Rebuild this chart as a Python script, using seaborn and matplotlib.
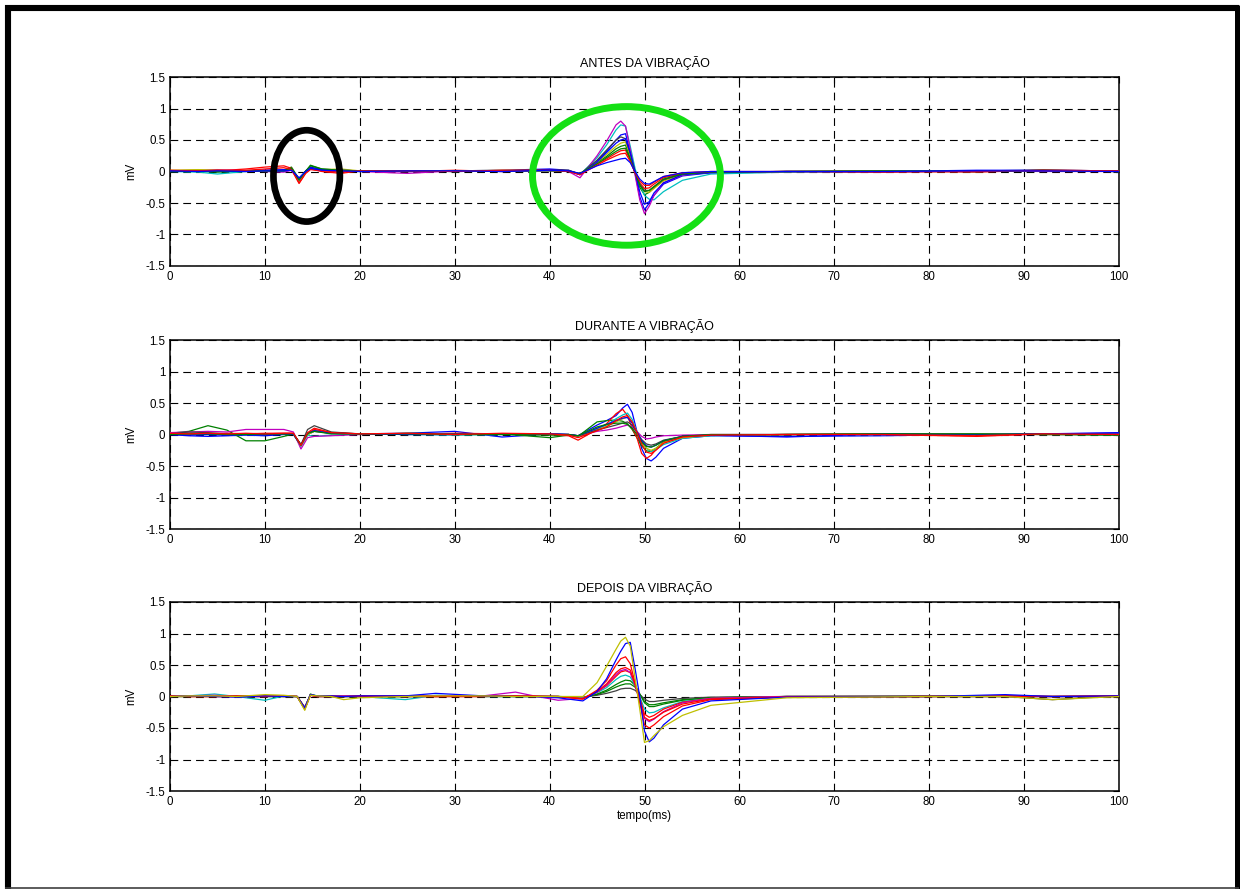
import matplotlib
matplotlib.use("Agg")
import matplotlib.pyplot as plt
from matplotlib.patches import Ellipse
from matplotlib.lines import Line2D
import numpy as np
import pandas as pd
import seaborn as sns

# ---------------- data (mV vs. time in ms) ----------------
# MATLAB default colour order
COL = {"b": "#0000ff", "g": "#008000", "r": "#ff0000", "c": "#00bfbf",
       "m": "#bf00bf", "y": "#bfbf00", "k": "#404040"}

titles = ["ANTES DA VIBRAÇÃO", "DURANTE A VIBRAÇÃO", "DEPOIS DA VIBRAÇÃO"]
x_ticks = [0, 10, 20, 30, 40, 50, 60, 70, 80, 90, 100]
y_ticks = [-1.5, -1, -0.5, 0, 0.5, 1, 1.5]
y_ticklabels = ["-1.5", "-1", "-0.5", "0", "0.5", "1", "1.5"]

# --- ANTES ---
t_antes = [0, 3, 5, 8, 10, 12, 12.8, 13.6, 14.3, 14.8, 16, 18, 20, 25, 30, 35, 40, 42, 43.2,
           45, 46, 47, 47.5, 48, 48.5, 49, 49.5, 50, 50.5, 51, 52, 54, 57, 65, 75, 85, 92, 100]
antes_b1 = [0.01, 0.01, 0.00, 0.01, 0.02, 0.02, 0.03, -0.13, 0.00, 0.06, 0.03, 0.02, 0.01, 0.00, 0.01, 0.02, 0.04, 0.02, -0.05,
            0.17, 0.32, 0.50, 0.58, 0.60, 0.30, -0.02, -0.40, -0.61, -0.50, -0.38, -0.20, -0.07, -0.02, 0.00, -0.01, 0.01, 0.02, 0.01]
antes_g1 = [0.00, 0.01, -0.01, 0.01, 0.00, 0.02, 0.07, -0.12, 0.00, 0.10, 0.04, 0.02, 0.00, 0.01, 0.00, 0.01, 0.02, 0.01, -0.04,
            0.14, 0.24, 0.36, 0.40, 0.42, 0.22, -0.02, -0.25, -0.37, -0.33, -0.26, -0.14, -0.05, -0.01, 0.00, 0.01, 0.00, 0.01, 0.00]
antes_r1 = [0.01, 0.02, 0.01, 0.04, 0.07, 0.09, 0.05, -0.18, -0.02, 0.04, 0.00, -0.03, 0.01, 0.00, 0.02, 0.00, 0.03, 0.01, -0.05,
            0.12, 0.20, 0.29, 0.33, 0.34, 0.18, -0.02, -0.18, -0.27, -0.26, -0.20, -0.10, -0.03, -0.01, 0.00, 0.01, -0.01, 0.02, 0.01]
antes_c1 = [0.00, -0.01, -0.04, 0.00, 0.01, 0.01, 0.02, -0.14, -0.01, 0.04, 0.02, 0.01, 0.00, 0.01, 0.01, 0.00, 0.02, 0.01, -0.05,
            0.22, 0.42, 0.66, 0.74, 0.72, 0.40, 0.05, -0.20, -0.38, -0.44, -0.45, -0.32, -0.14, -0.04, -0.01, 0.00, 0.00, 0.01, 0.00]
antes_m1 = [0.01, 0.02, 0.03, 0.01, 0.00, -0.01, 0.02, -0.15, -0.01, 0.05, 0.02, 0.01, 0.00, -0.03, 0.01, 0.00, 0.01, 0.00, -0.10,
            0.25, 0.48, 0.74, 0.80, 0.72, 0.35, -0.05, -0.45, -0.67, -0.55, -0.38, -0.18, -0.06, -0.01, 0.00, 0.00, 0.01, 0.00, 0.00]
antes_y1 = [0.02, 0.03, 0.02, 0.01, 0.01, 0.02, 0.04, -0.15, -0.01, 0.05, 0.03, 0.04, 0.01, 0.01, 0.01, 0.02, 0.02, 0.01, -0.04,
            0.15, 0.27, 0.40, 0.45, 0.47, 0.25, -0.01, -0.22, -0.32, -0.33, -0.27, -0.15, -0.05, -0.01, 0.00, 0.01, 0.01, 0.02, 0.01]
antes_k1 = [0.00, 0.01, 0.01, 0.00, 0.01, 0.01, 0.03, -0.14, 0.00, 0.05, 0.02, 0.01, 0.01, 0.00, 0.01, 0.01, 0.03, 0.02, -0.04,
            0.18, 0.34, 0.50, 0.55, 0.52, 0.28, 0.00, -0.20, -0.30, -0.30, -0.24, -0.13, -0.04, -0.01, 0.00, 0.00, 0.01, 0.01, 0.00]
antes_b2 = [0.01, 0.00, 0.01, 0.01, 0.02, 0.03, 0.04, -0.12, 0.01, 0.07, 0.03, 0.02, 0.01, 0.01, 0.00, 0.01, 0.03, 0.01, -0.05,
            0.15, 0.30, 0.45, 0.50, 0.52, 0.30, 0.00, -0.32, -0.52, -0.48, -0.34, -0.18, -0.05, -0.02, 0.00, 0.00, 0.02, 0.02, 0.01]
antes_g2 = [0.01, 0.00, 0.00, 0.01, 0.01, 0.01, 0.05, -0.13, 0.01, 0.09, 0.04, 0.02, 0.01, 0.01, 0.00, 0.01, 0.01, 0.00, -0.03,
            0.12, 0.22, 0.32, 0.36, 0.37, 0.20, -0.01, -0.22, -0.32, -0.30, -0.24, -0.12, -0.04, -0.01, 0.00, 0.01, 0.00, 0.02, 0.00]
antes_r2 = [0.02, 0.01, 0.02, 0.02, 0.04, 0.06, 0.03, -0.19, -0.03, 0.03, 0.01, -0.01, 0.01, 0.01, 0.00, 0.02, 0.02, 0.00, -0.05,
            0.10, 0.18, 0.25, 0.28, 0.29, 0.16, -0.02, -0.15, -0.22, -0.22, -0.17, -0.08, -0.02, 0.00, 0.00, -0.01, 0.00, 0.02, 0.01]
antes_b3 = [0.01, 0.00, 0.01, 0.00, 0.01, 0.01, 0.02, -0.10, 0.00, 0.05, 0.02, 0.01, 0.00, 0.01, 0.01, 0.00, 0.02, 0.01, -0.03,
            0.09, 0.14, 0.18, 0.20, 0.21, 0.14, 0.00, -0.12, -0.19, -0.20, -0.16, -0.08, -0.02, 0.00, 0.00, 0.00, 0.01, 0.01, 0.00]

# --- DURANTE ---
t_durante = [0, 2, 4, 6, 8, 10, 12, 13, 13.8, 14.5, 15.2, 17, 20, 25, 30, 35, 40, 42, 43,
             45, 46, 47, 47.7, 48.2, 48.7, 49.2, 49.7, 50.2, 50.7, 51.2, 52, 54, 57, 65, 75, 85, 92, 100]
durante_b1 = [0.00, -0.02, -0.03, -0.02, -0.01, -0.02, 0.00, 0.01, -0.18, 0.00, 0.05, 0.02, 0.01, 0.02, 0.05, -0.04, 0.01, 0.00, -0.02,
              0.15, 0.22, 0.30, 0.42, 0.48, 0.35, 0.05, -0.22, -0.38, -0.42, -0.36, -0.22, -0.06, -0.02, -0.03, -0.02, 0.00, 0.01, 0.02]
durante_g1 = [0.02, 0.05, 0.14, 0.07, -0.10, -0.10, -0.03, 0.01, -0.16, 0.00, 0.06, 0.03, 0.00, 0.02, 0.01, 0.01, -0.05, -0.01, -0.03,
              0.20, 0.22, 0.23, 0.21, 0.17, 0.08, -0.05, -0.18, -0.26, -0.27, -0.22, -0.12, -0.04, -0.01, 0.00, 0.01, 0.00, 0.01, -0.01]
durante_r1 = [0.02, 0.02, 0.01, 0.02, 0.01, 0.02, 0.02, 0.02, -0.17, 0.01, 0.08, 0.03, 0.01, 0.00, 0.02, 0.01, 0.00, -0.02, -0.09,
              0.08, 0.17, 0.33, 0.40, 0.30, 0.10, -0.05, -0.30, -0.38, -0.33, -0.24, -0.12, -0.04, -0.01, 0.00, 0.00, -0.03, 0.01, 0.00]
durante_c1 = [0.01, 0.00, 0.01, 0.00, 0.00, 0.00, 0.01, 0.01, -0.19, -0.01, -0.03, -0.01, 0.01, 0.00, -0.01, 0.00, 0.01, 0.00, -0.03,
              0.09, 0.15, 0.25, 0.31, 0.34, 0.24, 0.04, -0.12, -0.22, -0.27, -0.24, -0.16, -0.06, -0.02, 0.00, 0.00, 0.01, 0.00, 0.00]
durante_m1 = [0.03, 0.04, 0.05, 0.04, 0.08, 0.08, 0.08, 0.04, -0.23, -0.05, -0.03, -0.02, 0.00, 0.01, 0.00, 0.01, 0.00, 0.00, -0.02,
              0.05, 0.07, 0.10, 0.13, 0.15, 0.12, 0.05, -0.03, -0.07, -0.06, -0.04, -0.02, -0.01, 0.00, 0.00, 0.01, 0.00, 0.00, 0.00]
durante_y1 = [0.01, 0.01, 0.00, 0.01, 0.01, 0.01, 0.01, 0.01, -0.18, 0.00, 0.05, 0.02, 0.01, 0.01, 0.00, 0.01, 0.00, 0.00, -0.03,
              0.08, 0.13, 0.20, 0.25, 0.28, 0.20, 0.04, -0.12, -0.22, -0.25, -0.22, -0.13, -0.05, -0.01, 0.00, 0.01, 0.01, 0.00, 0.00]
durante_k1 = [0.01, 0.04, 0.03, 0.01, 0.01, 0.00, 0.01, 0.01, -0.16, 0.08, 0.14, 0.04, 0.01, 0.00, 0.01, 0.00, 0.01, 0.00, -0.02,
              0.07, 0.11, 0.15, 0.18, 0.20, 0.15, 0.04, -0.08, -0.15, -0.17, -0.15, -0.09, -0.03, -0.01, 0.00, 0.01, 0.00, 0.01, 0.00]
durante_b2 = [0.00, -0.01, 0.00, -0.01, 0.00, 0.01, 0.01, 0.00, -0.17, 0.02, 0.06, 0.02, 0.01, 0.00, 0.00, 0.01, 0.01, 0.00, -0.02,
              0.10, 0.16, 0.22, 0.26, 0.27, 0.18, 0.03, -0.10, -0.18, -0.20, -0.17, -0.10, -0.03, -0.01, -0.04, 0.01, 0.00, 0.01, 0.03]
durante_g2 = [0.00, 0.01, 0.01, 0.00, 0.00, 0.01, 0.01, 0.01, -0.17, 0.02, 0.05, 0.01, 0.01, 0.01, 0.00, 0.00, -0.01, 0.00, -0.02,
              0.12, 0.16, 0.18, 0.18, 0.16, 0.10, 0.00, -0.12, -0.19, -0.20, -0.17, -0.10, -0.03, 0.00, 0.00, 0.01, 0.01, 0.00, -0.01]
durante_r2 = [0.02, 0.01, 0.02, 0.01, 0.02, 0.01, 0.02, 0.02, -0.17, 0.03, 0.10, 0.03, 0.01, 0.02, 0.00, 0.02, 0.01, -0.01, -0.05,
              0.06, 0.12, 0.22, 0.28, 0.30, 0.20, 0.03, -0.15, -0.28, -0.30, -0.25, -0.14, -0.04, -0.01, 0.00, 0.00, -0.02, 0.01, 0.00]

# --- DEPOIS ---
t_depois = [0, 2, 4.7, 7, 10, 12, 13.4, 14.2, 14.8, 15.5, 17, 18.3, 20, 24.8, 28, 33, 36.4, 38, 40.9, 43.5,
            45, 46, 47, 47.5, 48, 48.5, 49, 49.5, 50, 50.5, 51, 52, 54, 57, 65, 80, 88, 93, 100]
depois_b1 = [0.00, 0.01, 0.00, -0.01, 0.01, 0.00, 0.00, -0.18, 0.03, 0.01, 0.01, 0.00, 0.01, 0.01, 0.05, 0.01, 0.00, 0.00, -0.02, -0.07,
             0.08, 0.28, 0.58, 0.72, 0.84, 0.86, 0.45, 0.00, -0.55, -0.72, -0.66, -0.45, -0.20, -0.07, -0.01, 0.00, 0.03, 0.00, 0.01]
depois_y1 = [0.00, 0.01, 0.01, 0.00, 0.03, 0.02, 0.00, -0.22, 0.02, 0.01, 0.00, -0.05, -0.02, 0.00, 0.01, 0.01, 0.00, 0.00, 0.00, 0.00,
             0.22, 0.48, 0.75, 0.88, 0.94, 0.80, 0.30, -0.20, -0.73, -0.70, -0.62, -0.48, -0.30, -0.14, -0.02, 0.00, 0.00, -0.05, 0.00]
depois_r1 = [0.00, 0.00, 0.00, 0.01, 0.00, 0.01, 0.00, -0.20, 0.03, 0.00, 0.01, 0.00, 0.00, 0.01, 0.00, 0.01, 0.00, 0.01, 0.00, -0.04,
             0.10, 0.25, 0.50, 0.60, 0.63, 0.52, 0.22, -0.10, -0.45, -0.50, -0.45, -0.32, -0.15, -0.05, -0.01, 0.00, 0.01, 0.00, 0.01]
depois_r2 = [0.01, 0.00, 0.00, 0.00, 0.00, 0.01, 0.00, -0.19, 0.02, 0.00, 0.00, 0.00, 0.01, 0.00, 0.00, 0.00, 0.01, 0.00, 0.00, -0.04,
             0.08, 0.20, 0.38, 0.44, 0.46, 0.42, 0.20, -0.05, -0.33, -0.38, -0.35, -0.25, -0.12, -0.04, -0.01, 0.00, 0.00, 0.00, 0.01]
depois_m1 = [0.00, 0.01, 0.02, 0.00, 0.00, 0.01, 0.00, -0.20, 0.02, 0.00, 0.00, 0.01, 0.00, 0.00, 0.01, 0.01, 0.07, 0.02, -0.06, -0.03,
             0.07, 0.18, 0.35, 0.41, 0.43, 0.38, 0.18, -0.08, -0.35, -0.40, -0.36, -0.24, -0.10, -0.03, 0.00, 0.00, 0.00, 0.00, 0.00]
depois_r3 = [0.01, 0.00, 0.00, 0.00, 0.01, 0.00, 0.00, -0.18, 0.02, 0.00, 0.00, 0.00, 0.01, 0.00, 0.00, 0.00, 0.01, 0.00, 0.00, -0.03,
             0.07, 0.17, 0.32, 0.39, 0.41, 0.38, 0.20, -0.02, -0.28, -0.33, -0.30, -0.20, -0.09, -0.03, 0.00, 0.00, 0.01, 0.00, 0.00]
depois_c1 = [0.00, 0.01, 0.04, 0.00, -0.06, 0.01, 0.00, -0.19, 0.03, 0.01, 0.00, 0.00, 0.00, -0.05, 0.02, 0.00, 0.00, 0.01, 0.00, -0.02,
             0.06, 0.14, 0.27, 0.32, 0.34, 0.31, 0.18, 0.00, -0.20, -0.26, -0.25, -0.18, -0.08, -0.03, 0.00, 0.00, 0.01, 0.00, 0.01]
depois_g1 = [0.00, 0.00, 0.00, 0.01, 0.00, 0.00, 0.00, -0.20, 0.04, 0.00, 0.00, 0.00, 0.00, 0.00, 0.01, 0.00, 0.00, 0.00, 0.00, -0.02,
             0.04, 0.10, 0.19, 0.23, 0.26, 0.25, 0.18, 0.04, -0.10, -0.16, -0.16, -0.12, -0.06, -0.02, 0.00, 0.00, 0.00, 0.00, 0.00]
depois_k1 = [0.00, 0.01, 0.00, 0.00, 0.00, 0.00, 0.00, -0.17, 0.03, 0.01, 0.00, 0.00, 0.00, 0.00, 0.00, 0.00, 0.00, 0.00, 0.00, -0.01,
             0.02, 0.05, 0.09, 0.12, 0.13, 0.13, 0.10, 0.03, -0.04, -0.08, -0.08, -0.06, -0.03, -0.01, 0.00, 0.01, 0.00, -0.05, 0.01]
depois_g2 = [0.00, 0.00, 0.01, 0.00, 0.00, 0.00, 0.00, -0.18, 0.03, 0.00, 0.00, 0.00, 0.00, 0.00, 0.00, 0.01, 0.00, 0.00, 0.00, -0.02,
             0.03, 0.08, 0.15, 0.18, 0.20, 0.20, 0.15, 0.04, -0.08, -0.13, -0.13, -0.10, -0.05, -0.02, 0.00, 0.00, 0.00, 0.00, 0.00]

panels = [
    (t_antes, [("b1", "b", antes_b1), ("g1", "g", antes_g1), ("r1", "r", antes_r1), ("c1", "c", antes_c1),
               ("m1", "m", antes_m1), ("y1", "y", antes_y1), ("k1", "k", antes_k1), ("b2", "b", antes_b2),
               ("g2", "g", antes_g2), ("r2", "r", antes_r2), ("b3", "b", antes_b3)]),
    (t_durante, [("b1", "b", durante_b1), ("g1", "g", durante_g1), ("r1", "r", durante_r1), ("c1", "c", durante_c1),
                 ("m1", "m", durante_m1), ("y1", "y", durante_y1), ("k1", "k", durante_k1), ("b2", "b", durante_b2),
                 ("g2", "g", durante_g2), ("r2", "r", durante_r2)]),
    (t_depois, [("g2", "g", depois_g2), ("k1", "k", depois_k1), ("g1", "g", depois_g1), ("c1", "c", depois_c1),
                ("r3", "r", depois_r3), ("m1", "m", depois_m1), ("r2", "r", depois_r2), ("r1", "r", depois_r1),
                ("b1", "b", depois_b1), ("y1", "y", depois_y1)]),
]

# ---------------- figure ----------------
sns.set_theme(style="white")
plt.rcParams["font.family"] = ["Liberation Sans", "DejaVu Sans"]
plt.rcParams["axes.unicode_minus"] = False
plt.rcParams["text.color"] = "black"
plt.rcParams["axes.labelcolor"] = "black"
plt.rcParams["xtick.color"] = "black"
plt.rcParams["ytick.color"] = "black"

W, H = 1242, 889
fig = plt.figure(figsize=(W / 100, H / 100), dpi=100)
fig.patch.set_facecolor("white")

ax_tops = [77, 340, 602]
ax_h = 189
left, right = 170, 1119
FS_TICK = 8.3
FS_TITLE = 9.0

axes = []
for i, (tvals, traces) in enumerate(panels):
    top = ax_tops[i]
    ax = fig.add_axes([left / W, 1 - (top + ax_h) / H, (right - left) / W, ax_h / H])
    rows = []
    for name, c, vals in traces:
        for tt, vv in zip(tvals, vals):
            rows.append({"t": tt, "v": vv, "trace": name})
    df = pd.DataFrame(rows)
    pal = {name: COL[c] for name, c, _ in traces}
    sns.lineplot(data=df, x="t", y="v", hue="trace", palette=pal, estimator=None,
                 sort=False, legend=False, linewidth=0.9, ax=ax, zorder=3)
    ax.set_xlim(0, 100)
    ax.set_ylim(-1.5, 1.5)
    ax.set_xticks(x_ticks)
    ax.set_xticklabels([str(v) for v in x_ticks])
    ax.set_yticks(y_ticks)
    ax.set_yticklabels(y_ticklabels)
    ax.tick_params(direction="in", length=4, width=0.8, top=True, right=True,
                   labelsize=FS_TICK, colors="black", pad=3.5)
    ax.grid(True, color="black", linestyle=(0, (7, 4.5)), linewidth=0.8)
    ax.set_axisbelow(True)
    for sp in ax.spines.values():
        sp.set_color("black")
        sp.set_linewidth(1.1)
    ax.set_title(titles[i], fontsize=FS_TITLE, pad=7.5, color="black")
    ax.set_ylabel("mV", fontsize=FS_TICK, labelpad=6, color="black")
    ax.set_xlabel("tempo(ms)" if i == 2 else "", fontsize=FS_TICK, labelpad=1.5, color="black")
    axes.append(ax)

# highlight ellipses in the first panel
axes[0].add_patch(Ellipse((14.4, -0.07), width=7.0, height=1.45, fill=False,
                          edgecolor="black", linewidth=4.8, zorder=5, clip_on=False))
axes[0].add_patch(Ellipse((48.1, -0.07), width=19.8, height=2.2, fill=False,
                          edgecolor="#14e014", linewidth=5.0, zorder=5, clip_on=False))

# outer frame
def px(x, y):
    return x / W, 1 - y / H

for (x0, y0), (x1, y1), lw, col in [
    ((5, 8), (1239, 8), 4.4, "black"),
    ((8, 5), (8, 889), 4.4, "black"),
    ((1236.5, 5), (1236.5, 889), 3.6, "black"),
    ((5, 887.5), (1239, 887.5), 1.2, "#404040"),
]:
    a, b = px(x0, y0)
    c, d = px(x1, y1)
    fig.add_artist(Line2D([a, c], [b, d], transform=fig.transFigure, linewidth=lw,
                          color=col, solid_capstyle="butt"))

fig.savefig("out.png", dpi=100, facecolor="white")
